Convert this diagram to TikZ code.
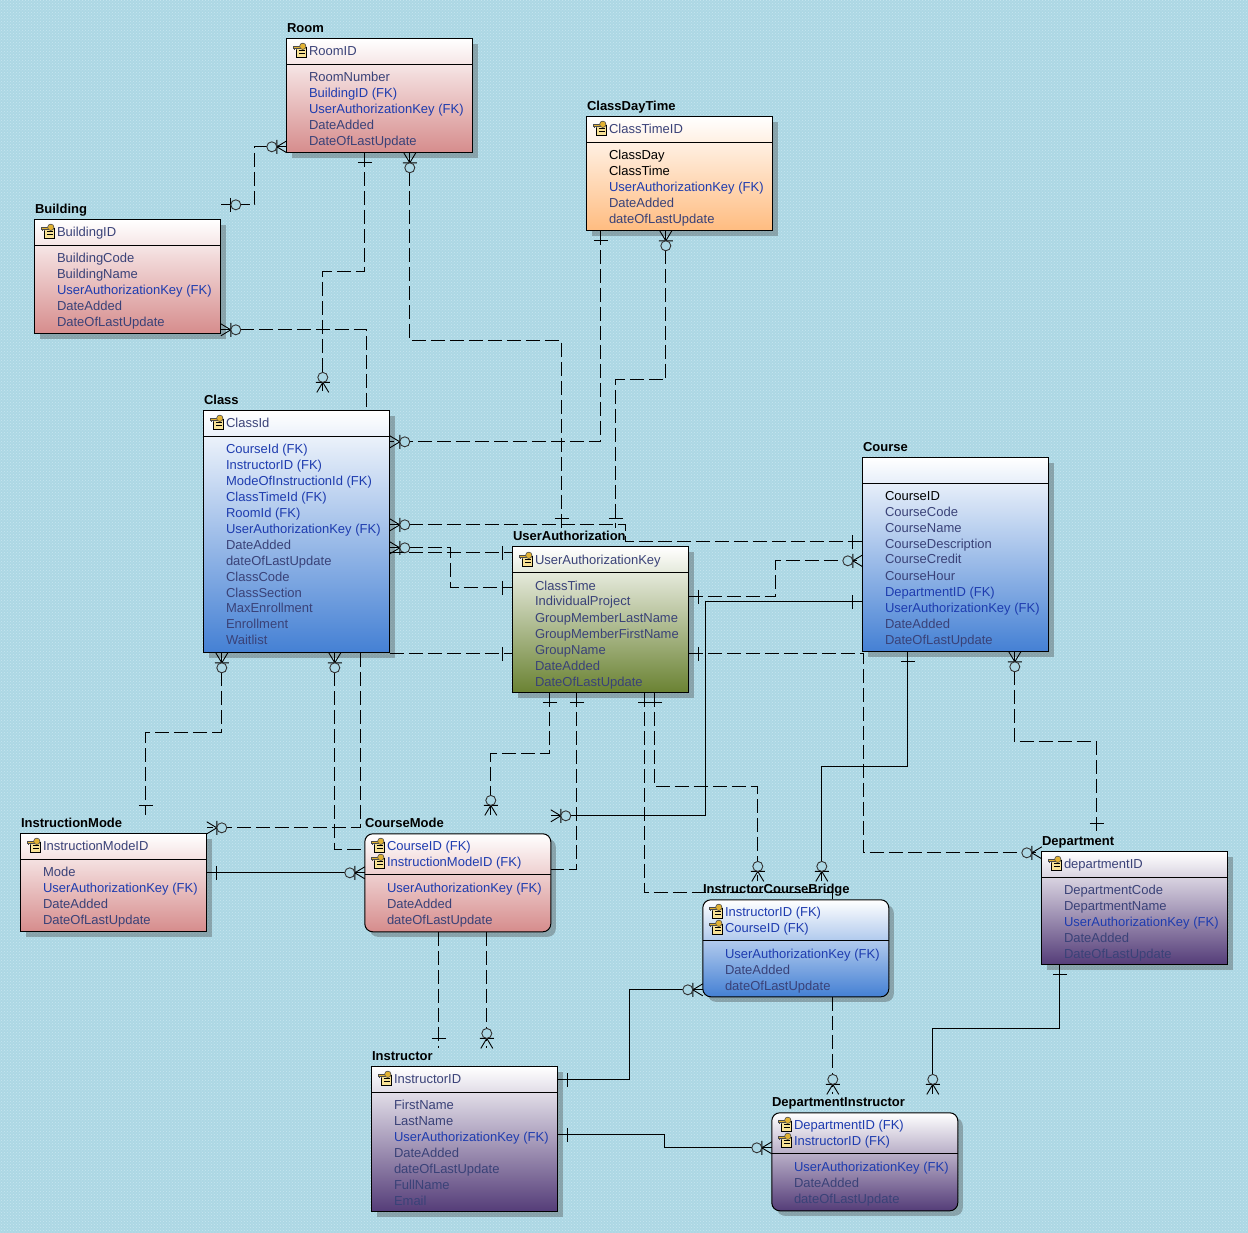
\documentclass[tikz,border=0pt]{standalone}
\usepackage{fontspec}
\usepackage{xcolor}
\usetikzlibrary{calc,shadows,patterns}
\setmainfont{Liberation Sans}
\definecolor{paperBlue}{RGB}{172,215,228}
\definecolor{paperDot}{RGB}{200,230,239}
\definecolor{pkSlate}{RGB}{58,66,120}
\definecolor{fkBlue}{RGB}{30,60,175}
\definecolor{roseEnd}{RGB}{214,140,140}
\definecolor{blueEnd}{RGB}{68,128,212}
\definecolor{orangeEnd}{RGB}{255,188,128}
\definecolor{greenEnd}{RGB}{106,130,50}
\definecolor{purpleEnd}{RGB}{84,60,120}
\definecolor{keyGold}{RGB}{226,178,50}
\definecolor{keyCream}{RGB}{248,226,150}
\tikzset{
  entbox/.style={draw=black,line width=1pt,anchor=north west,inner sep=0pt,outer sep=0pt,
    minimum width=186pt,top color=white,bottom color=#1,
    drop shadow={shadow xshift=5pt,shadow yshift=-5pt,fill=black!75,opacity=.35}},
  softbox/.style={rounded corners=8pt},
  enttitle/.style={anchor=south west,inner sep=0pt,font=\fontsize{13}{15}\selectfont\bfseries,
    text height=12pt,text depth=6pt},
  attr/.style={anchor=west,inner sep=0pt,font=\fontsize{13}{15}\selectfont,text height=10pt,text depth=0pt},
  fkdash/.style={line width=.9pt,dash pattern=on 14pt off 5pt},
  fkline/.style={line width=.9pt},
  onemark/.pic={\draw[solid,line width=.9pt] (10,-7)--(10,7);},
  zeroone/.pic={\draw[solid,line width=.9pt] (10,-7)--(10,7);
    \fill[paperBlue] (15,0) circle (5);
    \draw[solid,line width=.9pt,black!80] (15,0) circle (5);},
  zeromany/.pic={\draw[solid,line width=.9pt] (10,-7)--(10,7) (0,-6)--(10,0)--(0,6);
    \fill[paperBlue] (15,0) circle (5);
    \draw[solid,line width=.9pt,black!80] (15,0) circle (5);},
  keyicon/.pic={
    \fill[keyCream] (4,5) rectangle (14,15);
    \draw[line width=.7pt] (4,5) rectangle (14,15) (6,8)--(12,8) (6,11)--(12,11);
    \fill[keyGold,draw=black!70,line width=.6pt] (0,3) rectangle (9,5.5);
    \fill[keyGold,draw=black!70,line width=.6pt] (10,3.5) circle (3.2);
    \draw[black!70,line width=.7pt] (1.5,5.5)--(1.5,7.5) (4,5.5)--(4,7);}
}
% entity: colour, name, title, left edge, top, separator, bottom edge
\newcommand{\entity}[8][]{
  \pgfmathsetmacro{\boxh}{#8-#6}
  \node[entbox=#2,minimum height=\boxh pt,#1] (#3) at (#5,#6) {};
  \node[enttitle] (#3-title) at (#3.north west) {#4};
  \draw[line width=1pt] (#3.west |- 0,#7) -- (#3.east |- 0,#7);
}
% rows: box name, text x, list of text/y/colour
\newcommand{\rows}[3]{
  \foreach \txt/\ypos/\col in {#3}{
    \node[attr,text=\col] (#1-\ypos) at (#2,\ypos) {\txt};
  }
}
\begin{document}
\begin{tikzpicture}[x=1pt,y=-1pt]
\useasboundingbox (0.2,0.2) rectangle (1248.2,1232.2);
\fill[paperBlue] (0,0) rectangle (1249,1233);
\fill[pattern=crosshatch dots,pattern color=paperDot] (0,0) rectangle (1249,1233);

\entity{roseEnd}{room}{Room}{287}{39}{65}{153}
\pic at (293,43) {keyicon};
\rows{room}{309}{RoomID/51/pkSlate,RoomNumber/77/pkSlate,BuildingID (FK)/93/fkBlue,UserAuthorizationKey (FK)/109/fkBlue,DateAdded/125/pkSlate,DateOfLastUpdate/141/pkSlate}

\entity{orangeEnd}{time}{ClassDayTime}{587}{117}{143}{231}
\pic at (593,121) {keyicon};
\rows{time}{609}{ClassTimeID/129/pkSlate,ClassDay/155/black,ClassTime/171/black,UserAuthorizationKey (FK)/187/fkBlue,DateAdded/203/pkSlate,dateOfLastUpdate/219/pkSlate}

\entity{roseEnd}{build}{Building}{35}{220}{246}{334}
\pic at (41,224) {keyicon};
\rows{build}{57}{BuildingID/232/pkSlate,BuildingCode/258/pkSlate,BuildingName/274/pkSlate,UserAuthorizationKey (FK)/290/fkBlue,DateAdded/306/pkSlate,DateOfLastUpdate/322/pkSlate}

\entity{blueEnd}{class}{Class}{204}{411}{437}{653}
\pic at (210,415) {keyicon};
\rows{class}{226}{ClassId/423/pkSlate,CourseId (FK)/449/fkBlue,InstructorID (FK)/465/fkBlue,ModeOfInstructionId (FK)/481/fkBlue,ClassTimeId (FK)/497/fkBlue,RoomId (FK)/513/fkBlue,UserAuthorizationKey (FK)/529/fkBlue,DateAdded/545/pkSlate,dateOfLastUpdate/561/pkSlate,ClassCode/577/pkSlate,ClassSection/593/pkSlate,MaxEnrollment/608/pkSlate,Enrollment/624/pkSlate,Waitlist/640/pkSlate}

\entity[minimum width=176pt]{greenEnd}{auth}{UserAuthorization}{513}{547}{573}{693}
\pic at (519,552) {keyicon};
\rows{auth}{535}{UserAuthorizationKey/560/pkSlate,ClassTime/586/pkSlate,IndividualProject/601/pkSlate,GroupMemberLastName/618/pkSlate,GroupMemberFirstName/634/pkSlate,GroupName/650/pkSlate,DateAdded/666/pkSlate,DateOfLastUpdate/682/pkSlate}

\entity{blueEnd}{course}{Course}{863}{458}{484}{652}
\rows{course}{885}{CourseID/496/black,CourseCode/512/pkSlate,CourseName/528/pkSlate,CourseDescription/544/pkSlate,CourseCredit/559/pkSlate,CourseHour/576/pkSlate,DepartmentID (FK)/592/fkBlue,UserAuthorizationKey (FK)/608/fkBlue,DateAdded/624/pkSlate,DateOfLastUpdate/640/pkSlate}

\entity{roseEnd}{imode}{InstructionMode}{21}{834}{860}{932}
\pic at (27,838) {keyicon};
\rows{imode}{43}{InstructionModeID/846/pkSlate,Mode/872/pkSlate,UserAuthorizationKey (FK)/888/fkBlue,DateAdded/904/pkSlate,DateOfLastUpdate/920/pkSlate}

\entity[softbox]{roseEnd}{cmode}{CourseMode}{365}{834}{875}{932}
\pic at (371,838) {keyicon};
\pic at (371,854) {keyicon};
\rows{cmode}{387}{CourseID (FK)/846/fkBlue,InstructionModeID (FK)/862/fkBlue,UserAuthorizationKey (FK)/888/fkBlue,DateAdded/904/pkSlate,dateOfLastUpdate/920/pkSlate}

\entity[softbox]{blueEnd}{bridge}{InstructorCourseBridge}{703}{900}{941}{997}
\pic at (709,904) {keyicon};
\pic at (709,920) {keyicon};
\rows{bridge}{725}{InstructorID (FK)/912/fkBlue,CourseID (FK)/928/fkBlue,UserAuthorizationKey (FK)/954/fkBlue,DateAdded/970/pkSlate,dateOfLastUpdate/986/pkSlate}

\entity{purpleEnd}{dept}{Department}{1042}{852}{878}{965}
\pic at (1048,856) {keyicon};
\rows{dept}{1064}{departmentID/864/pkSlate,DepartmentCode/890/pkSlate,DepartmentName/906/pkSlate,UserAuthorizationKey (FK)/922/fkBlue,DateAdded/938/pkSlate,DateOfLastUpdate/954/pkSlate}

\entity{purpleEnd}{instr}{Instructor}{372}{1067}{1093}{1212}
\pic at (378,1071) {keyicon};
\rows{instr}{394}{InstructorID/1079/pkSlate,FirstName/1105/pkSlate,LastName/1121/pkSlate,UserAuthorizationKey (FK)/1137/fkBlue,DateAdded/1153/pkSlate,dateOfLastUpdate/1169/pkSlate,FullName/1185/pkSlate,Email/1201/pkSlate}

\entity[softbox]{purpleEnd}{dinstr}{DepartmentInstructor}{772}{1113}{1154}{1211}
\pic at (778,1117) {keyicon};
\pic at (778,1133) {keyicon};
\rows{dinstr}{794}{DepartmentID (FK)/1125/fkBlue,InstructorID (FK)/1141/fkBlue,UserAuthorizationKey (FK)/1167/fkBlue,DateAdded/1183/pkSlate,dateOfLastUpdate/1199/pkSlate}

% around the room
\draw[fkdash] (room.west |- 0,147) pic[rotate=180] {zeromany} -| (255,205) -- (build.east |- 0,205) pic {zeroone};
\draw[fkdash] (365,0 |- room.south) pic[rotate=270] {onemark} |- (323,272) -- (323,0 |- class-title.north) pic[rotate=90] {zeromany};
\draw[fkdash] (410,0 |- room.south) pic[rotate=270] {zeromany} |- (562,341) -- (562,0 |- auth-title.north) pic[rotate=90] {onemark};
\draw[fkdash] (build.east |- 0,330) pic {zeromany} -| (367,0 |- class.north);

% class day time
\draw[fkdash] (601,0 |- time.south) pic[rotate=270] {onemark} |- (class.east |- 0,442) pic {zeromany};
\draw[fkdash] (666,0 |- time.south) pic[rotate=270] {zeromany} |- (616,380) -- (616,0 |- auth-title.north) pic[rotate=90] {onemark};

% class to user authorization and course
\draw[fkdash] (class.east |- 0,525) pic {zeromany} -| (626,542) -- (course.west |- 0,542) pic[rotate=180] {onemark};
\draw[fkdash] (class.east |- 0,548) pic {zeromany} -| (451,588) -- (auth.west |- 0,588) pic[rotate=180] {onemark};
\draw[fkdash] (class.east |- 0,553) -- (auth.west |- 0,553) pic[rotate=180] {onemark};
\draw[fkdash] (class.east |- 0,654) -- (auth.west |- 0,654) pic[rotate=180] {onemark};

% below the class
\draw[fkdash] (222,0 |- class.south) pic[rotate=270] {zeromany} |- (146,733) -- (146,0 |- imode-title.north) pic[rotate=90] {onemark};
\draw[fkdash] (335,0 |- class.south) pic[rotate=270] {zeromany} |- (cmode.west |- 0,850);
\draw[fkdash] (361,0 |- class.south) |- (imode.east |- 0,828) pic {zeromany};
\draw[fkline] (imode.east |- 0,873) pic {onemark} -- (cmode.west |- 0,873) pic[rotate=180] {zeromany};

% user authorization, right side
\draw[fkdash] (auth.east |- 0,597) pic {onemark} -| (776,561) -- (course.west |- 0,561) pic[rotate=180] {zeromany};
\draw[fkline] (course.west |- 0,602) pic[rotate=180] {onemark} -| (706,816) -- (cmode.east |- 0,816) pic {zeromany};
\draw[fkdash] (auth.east |- 0,654) pic {onemark} -| (864,853) -- (dept.west |- 0,853) pic[rotate=180] {zeromany};

% user authorization, bottom
\draw[fkdash] (550,0 |- auth.south) pic[rotate=270] {onemark} |- (491,754) -- (491,0 |- cmode-title.north) pic[rotate=90] {zeromany};
\draw[fkdash] (577,0 |- auth.south) pic[rotate=270] {onemark} |- (cmode.east |- 0,870);
\draw[fkdash] (645,0 |- auth.south) pic[rotate=270] {onemark} |- (833,893) -- (833,0 |- bridge.north);
\draw[fkdash] (655,0 |- auth.south) pic[rotate=270] {onemark} |- (758,787) -- (758,0 |- bridge-title.north) pic[rotate=90] {zeromany};

% course
\draw[fkline] (908,0 |- course.south) pic[rotate=270] {onemark} |- (822,767) -- (822,0 |- bridge-title.north) pic[rotate=90] {zeromany};
\draw[fkdash] (1015,0 |- course.south) pic[rotate=270] {zeromany} |- (1097,742) -- (1097,0 |- dept-title.north) pic[rotate=90] {onemark};

% instructor and bridges
\draw[fkdash] (833,0 |- bridge.south) -- (833,0 |- dinstr-title.north) pic[rotate=90] {zeromany};
\draw[fkline] (bridge.west |- 0,990) pic[rotate=180] {zeromany} -| (630,1080) -- (instr.east |- 0,1080) pic {onemark};
\draw[fkline] (1060,0 |- dept.south) pic[rotate=270] {onemark} |- (933,1029) -- (933,0 |- dinstr-title.north) pic[rotate=90] {zeromany};
\draw[fkline] (instr.east |- 0,1135) pic {onemark} -| (665,1148) -- (dinstr.west |- 0,1148) pic[rotate=180] {zeromany};
\draw[fkdash] (439,0 |- cmode.south) -- (439,0 |- instr-title.north) pic[rotate=90] {onemark};
\draw[fkdash] (487,0 |- cmode.south) -- (487,0 |- instr-title.north) pic[rotate=90] {zeromany};
\end{tikzpicture}
\end{document}
